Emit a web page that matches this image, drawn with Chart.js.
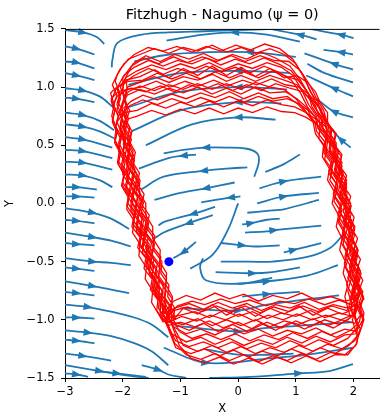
<!DOCTYPE html>
<html lang="en">
<head>
  <meta charset="UTF-8" />
  <title>Fitzhugh - Nagumo</title>
  <script src="https://cdn.jsdelivr.net/npm/chart.js"></script>
  <style>
    html, body { margin: 0; padding: 0; background: #fff; }
    #wrap { width: 384px; height: 415px; }
  </style>
</head>
<body>
  <div id="wrap"><canvas id="fnChart"></canvas></div>

  <script>
    const xTicks = [-3, -2, -1, 0, 1, 2];
    const yTicks = [-1.5, -1.0, -0.5, 0.0, 0.5, 1.0, 1.5];
    const startPoint = [-1.2, -0.5];

    // streamlines, points in flow order, a = point carrying the arrow head (-1 = none)
    const streamLeft = [
      {a: 1, p: [[-3, 1.49], [-2.69, 1.47], [-2.45, 1.43], [-2.32, 1.37]]},
      {a: 1, p: [[-3, 1.35], [-2.8, 1.33], [-2.49, 1.28]]},
      {a: 1, p: [[-3, 1.22], [-2.8, 1.21], [-2.49, 1.16]]},
      {a: 1, p: [[-3, 1.12], [-2.8, 1.1], [-2.49, 1.06]]},
      {a: 1, p: [[-3, 0.99], [-2.69, 0.97], [-2.4, 0.92], [-2.15, 0.82]]},
      {a: 1, p: [[-3, 0.91], [-2.8, 0.9], [-2.49, 0.87]]},
      {a: 1, p: [[-3, 0.78], [-2.69, 0.76], [-2.4, 0.71], [-2.15, 0.63]]},
      {a: 1, p: [[-3, 0.68], [-2.69, 0.66], [-2.4, 0.62], [-2.15, 0.56]]},
      {a: 1, p: [[-3, 0.57], [-2.69, 0.55], [-2.18, 0.48]]},
      {a: 1, p: [[-3, 0.46], [-2.69, 0.45], [-2.18, 0.39]]},
      {a: 1, p: [[-3, 0.36], [-2.69, 0.35], [-2.18, 0.29]]},
      {a: 1, p: [[-3, 0.25], [-2.69, 0.24], [-2.4, 0.2], [-2.18, 0.14]]},
      {a: 1, p: [[-3, 0.14], [-2.8, 0.14], [-2.45, 0.12]]},
      {a: 1, p: [[-3, 0.06], [-2.8, 0.06], [-2.49, 0.05]]},
      {a: 1, p: [[-3, -0.04], [-2.52, -0.08], [-2.2, -0.13], [-1.89, -0.22]]},
      {a: 1, p: [[-3, -0.14], [-2.8, -0.15], [-2.49, -0.17]]},
      {a: 1, p: [[-3, -0.25], [-2.52, -0.29], [-2.2, -0.32], [-1.86, -0.37]]},
      {a: 1, p: [[-3, -0.34], [-2.8, -0.35], [-2.49, -0.36]]},
      {a: 1, p: [[-3, -0.47], [-2.52, -0.5], [-2.2, -0.51], [-1.86, -0.53]]},
      {a: 1, p: [[-3, -0.55], [-2.8, -0.56], [-2.49, -0.58]]},
      {a: 1, p: [[-3, -0.67], [-2.52, -0.71], [-2.2, -0.74], [-1.89, -0.77]]},
      {a: 1, p: [[-3, -0.76], [-2.8, -0.77], [-2.49, -0.79]]},
      {a: 1, p: [[-3, -0.87], [-2.6, -0.89], [-2.2, -0.93], [-1.8, -0.98], [-1.5, -1.04], [-1.21, -1.15]]},
      {a: 1, p: [[-3, -0.98], [-2.8, -0.98], [-2.49, -0.99]]},
      {a: 1, p: [[-3, -1.09], [-2.6, -1.11], [-2.2, -1.14], [-1.8, -1.2], [-1.5, -1.27], [-1.21, -1.39]]},
      {a: 1, p: [[-3, -1.17], [-2.8, -1.18], [-2.49, -1.2]]},
      {a: 1, p: [[-3, -1.29], [-2.69, -1.31], [-2.2, -1.35]]},
      {a: 1, p: [[-3, -1.39], [-2.4, -1.44], [-1.9, -1.48], [-1.55, -1.5]]},
      {a: 1, p: [[-3, -1.46], [-2.8, -1.47], [-2.6, -1.49]]}
    ];

    const streamMiddle = [
      {a: 5, p: [[0.28, 0.23], [0.36, 0.36], [0.33, 0.43], [0.15, 0.47], [-0.2, 0.48], [-0.56, 0.48], [-0.95, 0.46], [-1.29, 0.43]]},
      {a: 1, p: [[-0.73, 0.42], [-0.95, 0.41], [-1.21, 0.39], [-1.72, 0.3]]},
      {a: 2, p: [[0.16, 0.31], [-0.2, 0.3], [-0.6, 0.28], [-1.29, 0.23], [-1.68, 0.12]]},
      {a: 1, p: [[-0.06, 0.18], [-0.56, 0.13], [-1.0, 0.09], [-1.45, 0.03]]},
      {a: 1, p: [[0.04, 0.06], [-0.13, 0.05], [-0.64, 0.01]]},
      {a: 1, p: [[-0.4, -0.03], [-0.78, -0.09], [-1.29, -0.16], [-1.38, -0.19]]},
      {a: 1, p: [[-0.44, -0.1], [-0.86, -0.17], [-1.29, -0.25], [-1.45, -0.3]]},
      {a: 1, p: [[-0.73, -0.33], [-0.95, -0.42], [-1.12, -0.47]]},
      {a: -1, p: [[0.0, 0.0], [-0.18, -0.23], [-0.44, -0.44], [-0.83, -0.56]]},
      {a: 1, p: [[-0.3, -0.34], [0.07, -0.36], [0.3, -0.37], [0.72, -0.36]]},
      {a: -1, p: [[-0.3, -0.5], [0.2, -0.5], [0.59, -0.5], [1.2, -0.46], [1.6, -0.38], [1.82, -0.27]]},
      {a: 1, p: [[0.79, -0.42], [0.96, -0.4], [1.44, -0.34]]},
      {a: 1, p: [[0.07, -0.18], [0.22, -0.17], [0.5, -0.14], [0.72, -0.13]]},
      {a: 2, p: [[0.12, -0.25], [0.5, -0.24], [0.62, -0.23], [1.44, -0.19]]},
      {a: -1, p: [[0.16, -0.08], [0.59, -0.06], [0.79, -0.05], [1.4, 0.03]]},
      {a: 1, p: [[0.33, 0.0], [0.79, 0.06], [1.4, 0.09]]},
      {a: 1, p: [[0.37, 0.13], [0.79, 0.19], [1.44, 0.23]]},
      {a: -1, p: [[0.47, 0.27], [0.8, 0.34], [1.07, 0.42]]},
      {a: -1, p: [[-0.61, -0.47], [-0.66, -0.55], [-0.56, -0.66], [0.0, -0.69], [0.59, -0.64]]},
      {a: 1, p: [[-0.39, -0.59], [0.25, -0.6], [0.59, -0.59], [1.07, -0.55]]}
    ];

    const streamTop = [
      {a: -1, p: [[0.62, 1.5], [0.0, 1.49], [-0.6, 1.48], [-1.21, 1.47], [-1.67, 1.45], [-2.09, 1.38], [-2.18, 1.23], [-2.19, 1.17]]},
      {a: 2, p: [[1.07, 1.39], [0.5, 1.45], [-0.06, 1.47], [-0.6, 1.45], [-1.24, 1.4]]},
      {a: 1, p: [[1.36, 1.41], [1.07, 1.45], [0.55, 1.5]]},
      {a: 1, p: [[2.0, 1.42], [1.78, 1.45], [1.24, 1.5]]},
      {a: 1, p: [[1.99, 1.28], [1.78, 1.3], [1.48, 1.32]]},
      {a: 1, p: [[1.99, 1.15], [1.66, 1.2], [1.15, 1.29]]},
      {a: -1, p: [[1.99, 1.04], [1.5, 1.12], [1.2, 1.2]]},
      {a: 1, p: [[1.99, 0.92], [1.66, 0.99], [1.18, 1.1]]},
      {a: 1, p: [[1.99, 0.74], [1.66, 0.79], [1.36, 0.9]]},
      {a: 1, p: [[1.95, 0.48], [1.78, 0.55], [1.58, 0.66]]},
      {a: 1, p: [[1.0, 1.26], [0.2, 1.3], [-0.5, 1.3], [-1.2, 1.28], [-1.8, 1.22]]},
      {a: 1, p: [[0.9, 1.12], [0.0, 1.14], [-1.0, 1.12], [-1.9, 1.02]]},
      {a: 1, p: [[0.85, 0.98], [0.0, 1.0], [-1.0, 0.96], [-1.95, 0.82]]},
      {a: 1, p: [[0.75, 0.86], [0.0, 0.87], [-1.0, 0.8], [-1.85, 0.62]]},
      {a: 1, p: [[0.65, 0.72], [0.0, 0.74], [-0.8, 0.68], [-1.6, 0.5]]}
    ];

    const streamBottom = [
      {a: 1, p: [[0.0, -0.69], [0.5, -0.67], [1.2, -0.62], [1.73, -0.53]]},
      {a: 1, p: [[0.07, -0.8], [0.5, -0.78], [1.07, -0.76]]},
      {a: 1, p: [[-1.0, -0.9], [0.0, -0.92], [0.5, -0.87], [1.75, -0.79]]},
      {a: 1, p: [[-1.1, -1.05], [0.0, -1.1], [0.5, -1.07], [1.99, -1.02]]},
      {a: -1, p: [[-0.6, -1.25], [0.0, -1.3], [0.5, -1.3], [0.96, -1.29]]},
      {a: 1, p: [[-1.29, -1.24], [-0.56, -1.37], [0.59, -1.33], [1.2, -1.3], [1.99, -1.24]]},
      {a: 2, p: [[-0.5, -1.5], [0.21, -1.49], [1.05, -1.46], [1.58, -1.44], [1.99, -1.38]]},
      {a: 1, p: [[-1.67, -1.39], [-1.38, -1.43], [-1.21, -1.47], [-0.9, -1.5]]},
      {a: 1, p: [[-2.45, -1.44], [-2.1, -1.46], [-1.6, -1.49]]}
    ];

    // noisy trajectory, one lap per array (bottom -> right branch -> top -> left branch)
    const lapA = [[-1.3,-0.95],[-1.12,-0.84],[-0.9,-0.79],[-0.65,-0.83],[-0.4,-0.77],[-0.15,-0.82],[0.1,-0.78],[0.35,-0.84],[0.6,-0.79],[0.85,-0.82],[1.1,-0.77],[1.35,-0.83],[1.6,-0.8],[1.85,-0.84],[2.02,-0.82],
      [2.12,-0.72],[2.03,-0.64],[2.1,-0.56],[2.0,-0.47],[2.06,-0.38],[1.96,-0.3],[2.02,-0.2],[1.9,-0.11],[1.96,-0.02],[1.84,0.08],[1.88,0.17],[1.76,0.26],[1.8,0.35],[1.68,0.44],[1.7,0.52],[1.58,0.6],[1.56,0.69],[1.44,0.78],[1.38,0.87],[1.25,0.96],[1.15,1.08],[1.0,1.2],
      [0.8,1.28],[0.55,1.33],[0.3,1.29],[0.05,1.34],[-0.2,1.3],[-0.45,1.36],[-0.7,1.31],[-0.95,1.34],[-1.2,1.29],[-1.45,1.33],[-1.7,1.28],[-1.9,1.24],[-2.05,1.15],
      [-2.18,1.02],[-2.1,0.93],[-2.16,0.84],[-2.07,0.75],[-2.12,0.66],[-2.02,0.57],[-2.08,0.48],[-1.97,0.39],[-2.02,0.3],[-1.9,0.21],[-1.95,0.12],[-1.82,0.03],[-1.86,-0.06],[-1.73,-0.15],[-1.76,-0.24],[-1.63,-0.33],[-1.66,-0.42],[-1.52,-0.51],[-1.54,-0.6],[-1.42,-0.69],[-1.44,-0.78],[-1.32,-0.87],[-1.3,-0.95]];
    const lapB = [[-1.3,-0.95],[-1.1,-0.9],[-0.85,-0.86],[-0.6,-0.91],[-0.35,-0.85],[-0.1,-0.9],[0.15,-0.86],[0.4,-0.92],[0.65,-0.87],[0.9,-0.9],[1.15,-0.85],[1.4,-0.91],[1.65,-0.87],[1.9,-0.9],[2.06,-0.86],
      [2.0,-0.78],[2.07,-0.7],[1.97,-0.61],[2.03,-0.52],[1.93,-0.43],[1.98,-0.34],[1.87,-0.25],[1.93,-0.16],[1.82,-0.07],[1.86,0.02],[1.74,0.11],[1.79,0.2],[1.67,0.29],[1.71,0.38],[1.58,0.47],[1.6,0.56],[1.47,0.65],[1.45,0.74],[1.32,0.83],[1.24,0.93],[1.08,1.04],[0.92,1.14],
      [0.7,1.2],[0.45,1.25],[0.2,1.2],[-0.05,1.24],[-0.3,1.19],[-0.55,1.25],[-0.8,1.2],[-1.05,1.23],[-1.3,1.18],[-1.55,1.23],[-1.8,1.17],[-1.98,1.1],
      [-2.1,0.99],[-2.04,0.9],[-2.1,0.81],[-2.0,0.72],[-2.05,0.63],[-1.95,0.54],[-2.0,0.45],[-1.9,0.36],[-1.95,0.27],[-1.83,0.18],[-1.87,0.09],[-1.75,0.0],[-1.8,-0.09],[-1.67,-0.18],[-1.71,-0.27],[-1.57,-0.36],[-1.6,-0.45],[-1.46,-0.54],[-1.5,-0.63],[-1.36,-0.72],[-1.38,-0.81],[-1.26,-0.9],[-1.22,-0.98]];
    const lapC = [[-1.22,-0.98],[-1.0,-0.96],[-0.75,-0.93],[-0.5,-0.98],[-0.25,-0.92],[0.0,-0.97],[0.25,-0.93],[0.5,-0.99],[0.75,-0.94],[1.0,-0.97],[1.25,-0.92],[1.5,-0.98],[1.75,-0.94],[1.98,-0.97],
      [2.04,-0.88],[1.96,-0.79],[2.02,-0.7],[1.92,-0.61],[1.97,-0.52],[1.87,-0.43],[1.92,-0.34],[1.81,-0.25],[1.86,-0.16],[1.75,-0.07],[1.79,0.02],[1.68,0.11],[1.71,0.2],[1.6,0.29],[1.63,0.38],[1.5,0.47],[1.52,0.56],[1.38,0.65],[1.34,0.74],[1.2,0.83],[1.08,0.95],[0.92,1.06],
      [0.7,1.13],[0.45,1.18],[0.2,1.12],[-0.05,1.17],[-0.3,1.13],[-0.55,1.18],[-0.8,1.12],[-1.05,1.16],[-1.3,1.11],[-1.55,1.16],[-1.8,1.1],[-1.97,1.04],
      [-2.02,0.96],[-2.08,0.87],[-1.99,0.78],[-2.04,0.69],[-1.94,0.6],[-1.99,0.51],[-1.88,0.42],[-1.93,0.33],[-1.82,0.24],[-1.86,0.15],[-1.74,0.06],[-1.78,-0.03],[-1.66,-0.12],[-1.7,-0.21],[-1.56,-0.3],[-1.6,-0.39],[-1.46,-0.48],[-1.5,-0.57],[-1.36,-0.66],[-1.39,-0.75],[-1.25,-0.84],[-1.27,-0.93],[-1.18,-1.02]];
    const lapD = [[-1.18,-1.02],[-0.95,-1.04],[-0.7,-0.99],[-0.45,-1.05],[-0.2,-1.0],[0.05,-1.05],[0.3,-1.0],[0.55,-1.06],[0.8,-1.01],[1.05,-1.04],[1.3,-0.99],[1.55,-1.05],[1.8,-1.0],[2.02,-1.03],[2.12,-0.96],
      [2.04,-0.87],[2.11,-0.78],[2.01,-0.69],[2.07,-0.6],[1.96,-0.51],[2.02,-0.42],[1.91,-0.33],[1.97,-0.24],[1.85,-0.15],[1.91,-0.06],[1.79,0.03],[1.84,0.12],[1.72,0.21],[1.76,0.3],[1.63,0.39],[1.67,0.48],[1.53,0.57],[1.54,0.66],[1.4,0.75],[1.34,0.84],[1.18,0.93],[1.02,1.02],
      [0.8,1.06],[0.55,1.1],[0.3,1.05],[0.05,1.1],[-0.2,1.05],[-0.45,1.11],[-0.7,1.06],[-0.95,1.09],[-1.2,1.04],[-1.45,1.09],[-1.7,1.04],[-1.92,1.0],
      [-1.97,0.92],[-2.03,0.83],[-1.94,0.74],[-1.99,0.65],[-1.89,0.56],[-1.94,0.47],[-1.83,0.38],[-1.87,0.29],[-1.76,0.2],[-1.8,0.11],[-1.68,0.02],[-1.72,-0.07],[-1.6,-0.16],[-1.63,-0.25],[-1.5,-0.34],[-1.54,-0.43],[-1.4,-0.52],[-1.43,-0.61],[-1.29,-0.7],[-1.32,-0.79],[-1.19,-0.88],[-1.22,-0.97],[-1.12,-1.06]];
    const lapE = [[-1.12,-1.06],[-0.9,-1.12],[-0.65,-1.08],[-0.4,-1.13],[-0.15,-1.07],[0.1,-1.12],[0.35,-1.08],[0.6,-1.14],[0.85,-1.09],[1.1,-1.12],[1.35,-1.07],[1.6,-1.13],[1.85,-1.08],[2.05,-1.1],[2.16,-1.0],
      [2.1,-0.9],[2.16,-0.81],[2.06,-0.72],[2.12,-0.63],[2.02,-0.54],[2.07,-0.45],[1.96,-0.36],[2.02,-0.27],[1.9,-0.18],[1.96,-0.09],[1.84,0.0],[1.89,0.09],[1.77,0.18],[1.82,0.27],[1.69,0.36],[1.74,0.45],[1.6,0.54],[1.62,0.63],[1.48,0.72],[1.44,0.81],[1.3,0.88],[1.12,0.96],
      [0.9,0.99],[0.65,1.03],[0.4,0.97],[0.15,1.02],[-0.1,0.97],[-0.35,1.03],[-0.6,0.98],[-0.85,1.02],[-1.1,0.96],[-1.35,1.01],[-1.6,0.96],[-1.85,0.99],[-2.08,0.96],
      [-2.2,0.9],[-2.13,0.81],[-2.18,0.72],[-2.09,0.63],[-2.13,0.54],[-2.03,0.45],[-2.07,0.36],[-1.96,0.27],[-2.0,0.18],[-1.88,0.09],[-1.91,0.0],[-1.78,-0.09],[-1.82,-0.18],[-1.68,-0.27],[-1.71,-0.36],[-1.57,-0.45],[-1.6,-0.54],[-1.46,-0.63],[-1.49,-0.72],[-1.36,-0.81],[-1.38,-0.9],[-1.28,-0.98]];
    const lapF = [[-1.28,-0.98],[-1.15,-1.12],[-0.9,-1.19],[-0.65,-1.15],[-0.4,-1.21],[-0.15,-1.16],[0.1,-1.22],[0.35,-1.17],[0.6,-1.21],[0.85,-1.15],[1.1,-1.2],[1.35,-1.14],[1.6,-1.19],[1.85,-1.13],[2.05,-1.12],
      [1.98,-1.0],[2.04,-0.91],[1.94,-0.82],[2.0,-0.73],[1.9,-0.64],[1.96,-0.55],[1.85,-0.46],[1.9,-0.37],[1.8,-0.28],[1.84,-0.19],[1.73,-0.1],[1.78,-0.01],[1.65,0.08],[1.7,0.17],[1.57,0.26],[1.61,0.35],[1.48,0.44],[1.5,0.53],[1.36,0.62],[1.33,0.7],[1.18,0.78],[1.02,0.86],[0.85,0.92],
      [0.6,0.9],[0.35,0.95],[0.1,0.9],[-0.15,0.96],[-0.4,0.91],[-0.65,0.95],[-0.9,0.9],[-1.15,0.94],[-1.4,0.89],[-1.65,0.93],[-1.85,0.88],
      [-1.98,0.82],[-1.9,0.73],[-1.95,0.64],[-1.85,0.55],[-1.9,0.46],[-1.8,0.37],[-1.84,0.28],[-1.72,0.19],[-1.77,0.1],[-1.64,0.01],[-1.68,-0.08],[-1.55,-0.17],[-1.59,-0.26],[-1.45,-0.35],[-1.49,-0.44],[-1.35,-0.53],[-1.38,-0.62],[-1.25,-0.71],[-1.28,-0.8],[-1.16,-0.89],[-1.2,-0.98],[-1.1,-1.08]];
    const lapG = [[-1.1,-1.08],[-0.95,-1.22],[-0.7,-1.27],[-0.45,-1.22],[-0.2,-1.28],[0.05,-1.23],[0.3,-1.29],[0.55,-1.24],[0.8,-1.28],[1.05,-1.22],[1.3,-1.27],[1.55,-1.21],[1.8,-1.25],[2.02,-1.18],[2.14,-1.06],
      [2.18,-0.94],[2.1,-0.85],[2.16,-0.76],[2.06,-0.67],[2.12,-0.58],[2.01,-0.49],[2.07,-0.4],[1.96,-0.31],[2.02,-0.22],[1.9,-0.13],[1.95,-0.04],[1.83,0.05],[1.88,0.14],[1.75,0.23],[1.8,0.32],[1.66,0.41],[1.7,0.5],[1.55,0.59],[1.52,0.66],[1.36,0.72],[1.18,0.78],[0.98,0.83],
      [0.75,0.85],[0.5,0.89],[0.25,0.84],[0.0,0.88],[-0.25,0.83],[-0.5,0.88],[-0.75,0.83],[-1.0,0.87],[-1.25,0.82],[-1.5,0.86],[-1.75,0.8],[-1.98,0.78],
      [-2.1,0.7],[-2.02,0.61],[-2.07,0.52],[-1.97,0.43],[-2.02,0.34],[-1.9,0.25],[-1.95,0.16],[-1.83,0.07],[-1.86,-0.02],[-1.73,-0.11],[-1.77,-0.2],[-1.63,-0.29],[-1.67,-0.38],[-1.53,-0.47],[-1.56,-0.56],[-1.43,-0.65],[-1.46,-0.74],[-1.32,-0.83],[-1.35,-0.92],[-1.24,-1.0]];
    const lapH = [[-1.24,-1.0],[-1.1,-1.2],[-0.9,-1.3],[-0.65,-1.34],[-0.4,-1.29],[-0.15,-1.35],[0.1,-1.3],[0.35,-1.36],[0.6,-1.31],[0.85,-1.35],[1.1,-1.29],[1.35,-1.34],[1.6,-1.28],[1.85,-1.3],[2.04,-1.22],[2.12,-1.08],
      [2.02,-0.97],[2.08,-0.88],[1.98,-0.79],[2.04,-0.7],[1.94,-0.61],[1.99,-0.52],[1.88,-0.43],[1.94,-0.34],[1.83,-0.25],[1.88,-0.16],[1.76,-0.07],[1.82,0.02],[1.7,0.11],[1.74,0.2],[1.62,0.29],[1.66,0.38],[1.53,0.47],[1.56,0.56],[1.42,0.65],[1.4,0.74],[1.28,0.83],[1.22,0.94],[1.08,1.06],[0.9,1.18],
      [0.65,1.25],[0.4,1.3],[0.15,1.24],[-0.1,1.28],[-0.35,1.23],[-0.6,1.29],[-0.85,1.24],[-1.1,1.28],[-1.35,1.22],[-1.6,1.27],[-1.82,1.2],[-1.95,1.08],
      [-1.92,0.98],[-1.98,0.89],[-1.88,0.8],[-1.94,0.71],[-1.84,0.62],[-1.88,0.53],[-1.78,0.44],[-1.82,0.35],[-1.71,0.26],[-1.75,0.17],[-1.63,0.08],[-1.67,-0.01],[-1.54,-0.1],[-1.58,-0.19],[-1.44,-0.28],[-1.48,-0.37],[-1.34,-0.46],[-1.37,-0.55],[-1.24,-0.64],[-1.27,-0.73],[-1.14,-0.82],[-1.18,-0.91],[-1.12,-1.0]];
    const lapI = [[-1.12,-1.0],[-0.95,-0.9],[-0.7,-0.95],[-0.45,-0.87],[-0.2,-0.96],[0.05,-0.89],[0.3,-0.97],[0.55,-0.9],[0.8,-0.95],[1.05,-0.88],[1.3,-0.96],[1.55,-0.9],[1.8,-0.95],[2.05,-0.9],[2.18,-0.82],
      [2.1,-0.74],[2.16,-0.66],[2.06,-0.57],[2.12,-0.48],[2.01,-0.39],[2.07,-0.3],[1.96,-0.21],[2.01,-0.12],[1.9,-0.03],[1.95,0.06],[1.83,0.15],[1.88,0.24],[1.75,0.33],[1.8,0.42],[1.66,0.51],[1.7,0.6],[1.55,0.69],[1.55,0.78],[1.42,0.87],[1.34,0.96],[1.2,1.04],[1.02,1.1],
      [0.8,1.08],[0.55,1.16],[0.3,1.09],[0.05,1.17],[-0.2,1.1],[-0.45,1.18],[-0.7,1.1],[-0.95,1.16],[-1.2,1.08],[-1.45,1.15],[-1.7,1.09],[-1.95,1.06],[-2.12,0.98],
      [-2.2,0.88],[-2.14,0.79],[-2.18,0.7],[-2.1,0.61],[-2.14,0.52],[-2.04,0.43],[-2.08,0.34],[-1.97,0.25],[-2.01,0.16],[-1.9,0.07],[-1.93,-0.02],[-1.81,-0.11],[-1.84,-0.2],[-1.7,-0.29],[-1.74,-0.38],[-1.6,-0.47],[-1.63,-0.56],[-1.49,-0.65],[-1.52,-0.74],[-1.39,-0.83],[-1.41,-0.92],[-1.3,-1.0]];
    const lapJ = [[-1.3,-1.0],[-1.1,-1.04],[-0.85,-1.09],[-0.6,-1.03],[-0.35,-1.1],[-0.1,-1.04],[0.15,-1.1],[0.4,-1.03],[0.65,-1.09],[0.9,-1.02],[1.15,-1.08],[1.4,-1.02],[1.65,-1.07],[1.9,-1.0],[2.0,-0.96],
      [1.92,-0.88],[1.98,-0.79],[1.88,-0.7],[1.94,-0.61],[1.84,-0.52],[1.89,-0.43],[1.79,-0.34],[1.84,-0.25],[1.73,-0.16],[1.78,-0.07],[1.66,0.02],[1.71,0.11],[1.59,0.2],[1.63,0.29],[1.5,0.38],[1.54,0.47],[1.4,0.56],[1.42,0.65],[1.26,0.74],[1.2,0.82],[1.02,0.9],[0.82,0.96],
      [0.55,0.95],[0.3,1.0],[0.05,0.94],[-0.2,0.99],[-0.45,0.94],[-0.7,1.0],[-0.95,0.95],[-1.2,0.99],[-1.45,0.94],[-1.7,0.98],[-1.92,0.93],
      [-2.0,0.86],[-2.06,0.77],[-1.96,0.68],[-2.02,0.59],[-1.92,0.5],[-1.96,0.41],[-1.85,0.32],[-1.9,0.23],[-1.78,0.14],[-1.82,0.05],[-1.7,-0.04],[-1.74,-0.13],[-1.6,-0.22],[-1.64,-0.31],[-1.5,-0.4],[-1.54,-0.49],[-1.4,-0.58],[-1.43,-0.67],[-1.3,-0.76],[-1.33,-0.85],[-1.21,-0.94],[-1.25,-1.0]];
    const lapK = [[-1.25,-0.98],[-1.05,-0.88],[-0.8,-0.84],[-0.58,-0.87],[-0.3,-0.82],[-0.05,-0.86],[0.2,-0.83],[0.48,-0.88],[0.72,-0.84],[0.98,-0.86],[1.22,-0.82],[1.5,-0.87],[1.75,-0.83],[1.96,-0.87],[2.08,-0.8],
      [2.02,-0.75],[2.09,-0.65],[1.99,-0.55],[2.04,-0.45],[1.93,-0.35],[1.99,-0.25],[1.87,-0.15],[1.91,-0.05],[1.8,0.05],[1.85,0.15],[1.72,0.25],[1.76,0.35],[1.64,0.45],[1.66,0.55],[1.52,0.65],[1.5,0.75],[1.36,0.85],[1.26,0.96],[1.12,1.1],[0.95,1.24],
      [0.72,1.33],[0.46,1.37],[0.22,1.32],[-0.04,1.36],[-0.3,1.31],[-0.55,1.35],[-0.8,1.3],[-1.06,1.35],[-1.3,1.31],[-1.56,1.34],[-1.8,1.28],[-1.98,1.2],[-2.1,1.1],
      [-2.13,1.05],[-2.05,0.95],[-2.1,0.85],[-2.01,0.75],[-2.05,0.65],[-1.95,0.55],[-1.99,0.45],[-1.88,0.35],[-1.92,0.25],[-1.8,0.15],[-1.83,0.05],[-1.71,-0.05],[-1.74,-0.15],[-1.6,-0.25],[-1.63,-0.35],[-1.49,-0.45],[-1.52,-0.55],[-1.38,-0.65],[-1.41,-0.75],[-1.28,-0.85],[-1.3,-0.95],[-1.2,-1.02]];
    const lapL = [[-1.2,-1.02],[-0.98,-0.97],[-0.72,-1.01],[-0.48,-0.96],[-0.22,-1.0],[0.02,-0.95],[0.28,-1.01],[0.52,-0.96],[0.78,-1.0],[1.02,-0.95],[1.28,-1.0],[1.52,-0.96],[1.78,-1.0],[1.98,-0.96],
      [1.96,-0.85],[1.9,-0.75],[1.96,-0.65],[1.86,-0.55],[1.92,-0.45],[1.82,-0.35],[1.86,-0.25],[1.75,-0.15],[1.8,-0.05],[1.68,0.05],[1.73,0.15],[1.6,0.25],[1.64,0.35],[1.5,0.45],[1.53,0.55],[1.38,0.65],[1.36,0.75],[1.22,0.85],[1.1,0.98],[0.95,1.1],
      [0.75,1.17],[0.5,1.21],[0.25,1.16],[0.0,1.2],[-0.25,1.15],[-0.5,1.21],[-0.75,1.16],[-1.0,1.2],[-1.25,1.15],[-1.5,1.19],[-1.75,1.14],[-1.95,1.08],
      [-2.04,1.0],[-1.97,0.9],[-2.02,0.8],[-1.93,0.7],[-1.97,0.6],[-1.87,0.5],[-1.9,0.4],[-1.79,0.3],[-1.82,0.2],[-1.7,0.1],[-1.72,0.0],[-1.59,-0.1],[-1.6,-0.2],[-1.46,-0.3],[-1.47,-0.4],[-1.32,-0.5],[-1.34,-0.6],[-1.2,-0.7],[-1.22,-0.8],[-1.1,-0.9],[-1.12,-1.0],[-1.02,-1.1]];
    const lapM = [[-1.02,-1.1],[-0.8,-1.16],[-0.55,-1.12],[-0.3,-1.17],[-0.05,-1.12],[0.2,-1.18],[0.45,-1.13],[0.7,-1.17],[0.95,-1.11],[1.2,-1.16],[1.45,-1.1],[1.7,-1.15],[1.95,-1.09],[2.1,-1.02],
      [2.13,-0.95],[2.06,-0.85],[2.12,-0.75],[2.03,-0.65],[2.08,-0.55],[1.98,-0.45],[2.03,-0.35],[1.92,-0.25],[1.97,-0.15],[1.85,-0.05],[1.9,0.05],[1.78,0.15],[1.82,0.25],[1.7,0.35],[1.74,0.45],[1.6,0.55],[1.6,0.65],[1.46,0.75],[1.38,0.85],[1.22,0.94],[1.05,1.0],
      [0.82,1.02],[0.58,1.07],[0.32,1.02],[0.08,1.06],[-0.18,1.01],[-0.42,1.06],[-0.68,1.01],[-0.92,1.05],[-1.18,1.0],[-1.42,1.05],[-1.68,1.0],[-1.92,0.98],[-2.1,0.92],
      [-2.16,0.85],[-2.08,0.75],[-2.13,0.65],[-2.03,0.55],[-2.07,0.45],[-1.96,0.35],[-2.0,0.25],[-1.87,0.15],[-1.9,0.05],[-1.78,-0.05],[-1.81,-0.15],[-1.67,-0.25],[-1.7,-0.35],[-1.56,-0.45],[-1.58,-0.55],[-1.45,-0.65],[-1.47,-0.75],[-1.34,-0.85],[-1.35,-0.95],[-1.26,-1.02]];
    const lapN = [[-1.26,-1.02],[-1.08,-1.18],[-0.85,-1.23],[-0.6,-1.19],[-0.35,-1.24],[-0.1,-1.19],[0.15,-1.25],[0.4,-1.2],[0.65,-1.24],[0.9,-1.18],[1.15,-1.23],[1.4,-1.17],[1.65,-1.22],[1.9,-1.16],[2.08,-1.06],
      [2.02,-0.95],[2.08,-0.85],[2.0,-0.75],[2.05,-0.65],[1.96,-0.55],[2.01,-0.45],[1.9,-0.35],[1.95,-0.25],[1.84,-0.15],[1.89,-0.05],[1.77,0.05],[1.82,0.15],[1.69,0.25],[1.73,0.35],[1.6,0.45],[1.62,0.55],[1.48,0.63],[1.38,0.72],[1.22,0.8],[1.04,0.86],[0.85,0.9],
      [0.6,0.88],[0.35,0.92],[0.1,0.87],[-0.15,0.92],[-0.4,0.87],[-0.65,0.91],[-0.9,0.86],[-1.15,0.9],[-1.4,0.85],[-1.65,0.89],[-1.88,0.84],
      [-2.04,0.76],[-1.96,0.65],[-2.0,0.55],[-1.9,0.45],[-1.94,0.35],[-1.83,0.25],[-1.86,0.15],[-1.74,0.05],[-1.78,-0.05],[-1.64,-0.15],[-1.68,-0.25],[-1.54,-0.35],[-1.57,-0.45],[-1.42,-0.55],[-1.45,-0.65],[-1.32,-0.75],[-1.34,-0.85],[-1.22,-0.95],[-1.24,-1.04]];
    const lapO = [[-1.24,-1.04],[-1.08,-1.24],[-0.82,-1.29],[-0.58,-1.25],[-0.32,-1.31],[-0.08,-1.26],[0.18,-1.32],[0.42,-1.27],[0.68,-1.31],[0.92,-1.25],[1.18,-1.3],[1.42,-1.24],[1.68,-1.29],[1.92,-1.22],[2.1,-1.12],
      [2.18,-1.0],[2.12,-0.9],[2.17,-0.8],[2.08,-0.7],[2.13,-0.6],[2.03,-0.5],[2.08,-0.4],[1.97,-0.3],[2.02,-0.2],[1.91,-0.1],[1.95,0.0],[1.83,0.1],[1.88,0.2],[1.75,0.3],[1.79,0.4],[1.66,0.5],[1.68,0.6],[1.54,0.7],[1.48,0.8],[1.36,0.9],[1.24,1.02],[1.08,1.14],[0.88,1.22],
      [0.62,1.23],[0.38,1.27],[0.12,1.22],[-0.12,1.27],[-0.38,1.22],[-0.62,1.26],[-0.88,1.21],[-1.12,1.26],[-1.38,1.2],[-1.62,1.25],[-1.85,1.18],[-2.0,1.08],
      [-1.99,0.95],[-1.93,0.85],[-1.97,0.75],[-1.88,0.65],[-1.92,0.55],[-1.82,0.45],[-1.86,0.35],[-1.75,0.25],[-1.78,0.15],[-1.66,0.05],[-1.7,-0.05],[-1.57,-0.15],[-1.6,-0.25],[-1.46,-0.35],[-1.5,-0.45],[-1.36,-0.55],[-1.38,-0.65],[-1.25,-0.75],[-1.28,-0.85],[-1.16,-0.95],[-1.15,-1.04]];
    const lapP = [[-1.15,-1.04],[-1.02,-1.22],[-0.82,-1.33],[-0.58,-1.37],[-0.32,-1.32],[-0.08,-1.38],[0.18,-1.33],[0.42,-1.38],[0.68,-1.32],[0.92,-1.37],[1.18,-1.31],[1.42,-1.36],[1.68,-1.3],[1.9,-1.3],[2.06,-1.2],
      [2.06,-1.05],[2.0,-0.95],[2.06,-0.85],[1.97,-0.75],[2.03,-0.65],[1.93,-0.55],[1.98,-0.45],[1.88,-0.35],[1.93,-0.25],[1.82,-0.15],[1.87,-0.05],[1.75,0.05],[1.8,0.15],[1.67,0.25],[1.71,0.35],[1.58,0.45],[1.6,0.55],[1.46,0.65],[1.43,0.75],[1.3,0.85],[1.2,0.96],[1.04,1.06],
      [0.85,1.09],[0.6,1.14],[0.35,1.08],[0.1,1.13],[-0.15,1.08],[-0.4,1.13],[-0.65,1.07],[-0.9,1.12],[-1.15,1.07],[-1.4,1.12],[-1.65,1.06],[-1.9,1.05],[-2.1,1.0],
      [-2.21,0.95],[-2.15,0.85],[-2.19,0.75],[-2.11,0.65],[-2.14,0.55],[-2.06,0.45],[-2.09,0.35],[-1.98,0.25],[-2.02,0.15],[-1.9,0.05],[-1.93,-0.05],[-1.8,-0.15],[-1.83,-0.25],[-1.7,-0.35],[-1.72,-0.45],[-1.59,-0.55],[-1.61,-0.65],[-1.48,-0.75],[-1.5,-0.85],[-1.38,-0.95],[-1.3,-1.02]];
    const lapQ = [[-1.3,-1.02],[-1.12,-0.92],[-0.88,-0.89],[-0.62,-0.93],[-0.38,-0.88],[-0.12,-0.93],[0.12,-0.88],[0.38,-0.94],[0.62,-0.89],[0.88,-0.93],[1.12,-0.88],[1.38,-0.93],[1.62,-0.88],[1.88,-0.92],[2.06,-0.86],
      [2.1,-0.75],[2.03,-0.65],[2.08,-0.55],[1.98,-0.45],[2.03,-0.35],[1.92,-0.25],[1.96,-0.15],[1.85,-0.05],[1.89,0.05],[1.76,0.15],[1.8,0.25],[1.68,0.35],[1.7,0.45],[1.56,0.53],[1.5,0.6],[1.36,0.68],[1.18,0.74],[0.98,0.78],
      [0.75,0.79],[0.5,0.83],[0.25,0.78],[0.0,0.82],[-0.25,0.77],[-0.5,0.82],[-0.75,0.77],[-1.0,0.81],[-1.25,0.76],[-1.5,0.8],[-1.75,0.75],[-1.95,0.72],
      [-2.04,0.62],[-1.96,0.52],[-2.0,0.42],[-1.9,0.32],[-1.93,0.22],[-1.82,0.12],[-1.85,0.02],[-1.72,-0.08],[-1.76,-0.18],[-1.62,-0.28],[-1.66,-0.38],[-1.51,-0.48],[-1.54,-0.58],[-1.4,-0.68],[-1.43,-0.78],[-1.3,-0.88],[-1.32,-0.98],[-1.22,-1.05]];
    const lapR = [[-1.22,-1.05],[-1.0,-1.02],[-0.75,-1.06],[-0.5,-1.01],[-0.25,-1.07],[0.0,-1.02],[0.25,-1.08],[0.5,-1.02],[0.75,-1.07],[1.0,-1.01],[1.25,-1.06],[1.5,-1.0],[1.75,-1.04],[1.95,-0.98],
      [1.9,-0.9],[1.85,-0.8],[1.9,-0.7],[1.82,-0.6],[1.86,-0.5],[1.76,-0.4],[1.8,-0.3],[1.7,-0.2],[1.74,-0.1],[1.63,0.0],[1.67,0.1],[1.55,0.2],[1.58,0.3],[1.46,0.4],[1.48,0.5],[1.34,0.6],[1.3,0.7],[1.16,0.8],[1.0,0.9],[0.8,0.98],
      [0.55,1.0],[0.3,1.04],[0.05,0.98],[-0.2,1.03],[-0.45,0.98],[-0.7,1.03],[-0.95,0.98],[-1.2,1.02],[-1.45,0.97],[-1.7,1.01],[-1.9,0.96],
      [-1.98,0.9],[-1.92,0.8],[-1.96,0.7],[-1.86,0.6],[-1.9,0.5],[-1.8,0.4],[-1.82,0.3],[-1.7,0.2],[-1.72,0.1],[-1.6,0.0],[-1.6,-0.1],[-1.48,-0.2],[-1.48,-0.3],[-1.35,-0.4],[-1.36,-0.5],[-1.24,-0.6],[-1.25,-0.7],[-1.14,-0.8],[-1.16,-0.9],[-1.08,-1.0]];

    const laps = [lapA, lapB, lapC, lapD, lapE, lapF, lapG, lapH, lapI, lapJ, lapK, lapL, lapM, lapN, lapO, lapP, lapQ, lapR];
    const streams = [...streamLeft, ...streamMiddle, ...streamTop, ...streamBottom];

    const BLUE = '#1f77b4';
    const fmt = v => (v < 0 ? '\u2212' : '') + Math.abs(v);

    const datasets = [];
    datasets.push({
      data: [{x: startPoint[0], y: startPoint[1]}],
      pointRadius: 4.5, pointBackgroundColor: '#0000ff', pointBorderWidth: 0,
      showLine: false, order: 0
    });
    laps.forEach(lap => {
      datasets.push({
        data: lap.map(p => ({x: p[0], y: p[1]})),
        showLine: true, borderColor: '#ff0000', borderWidth: 1.3,
        pointRadius: 0, tension: 0, order: 1, clip: 0
      });
    });
    streams.forEach(s => {
      datasets.push({
        data: s.p.map(p => ({x: p[0], y: p[1]})),
        showLine: true, borderColor: BLUE, borderWidth: 1.8,
        pointRadius: 0, tension: 0.35, order: 2, clip: 0,
        arrowAt: s.a
      });
    });

    // arrow heads on the streamlines
    const arrowHeads = {
      id: 'arrowHeads',
      afterDatasetDraw(chart, args) {
        const ds = chart.data.datasets[args.index];
        if (ds.arrowAt == null || ds.arrowAt < 0) return;
        const pts = args.meta.data;
        const i = ds.arrowAt;
        const p = pts[i];
        const q = pts[Math.min(i + 1, pts.length - 1)];
        const r = pts[Math.max(i - 1, 0)];
        const ang = Math.atan2(q.y - r.y, q.x - r.x);
        const ctx = chart.ctx;
        ctx.save();
        ctx.translate(p.x, p.y);
        ctx.rotate(ang);
        ctx.beginPath();
        ctx.moveTo(5, 0);
        ctx.lineTo(-4.5, -3.6);
        ctx.lineTo(-4.5, 3.6);
        ctx.closePath();
        ctx.fillStyle = ds.borderColor;
        ctx.fill();
        ctx.restore();
      }
    };

    // top spine
    const topSpine = {
      id: 'topSpine',
      afterDraw(chart) {
        const {ctx, chartArea} = chart;
        ctx.save();
        ctx.strokeStyle = '#000';
        ctx.lineWidth = 1;
        ctx.beginPath();
        ctx.moveTo(chartArea.left, chartArea.top + 0.5);
        ctx.lineTo(chartArea.right, chartArea.top + 0.5);
        ctx.stroke();
        ctx.restore();
      }
    };

    Chart.defaults.font.family = 'DejaVu Sans';
    Chart.defaults.color = '#000';

    new Chart(document.getElementById('fnChart'), {
      type: 'scatter',
      data: {datasets},
      options: {
        responsive: true,
        maintainAspectRatio: false,
        animation: false,
        devicePixelRatio: 1,
        layout: {padding: {top: 3, left: 0, right: 0, bottom: 0}},
        plugins: {
          legend: {display: false},
          tooltip: {enabled: false},
          title: {
            display: true,
            text: 'Fitzhugh - Nagumo (\u03c8 = 0)',
            fullSize: false,
            font: {size: 14.5, weight: 'normal'},
            color: '#000',
            padding: {top: 4, bottom: 4.5}
          }
        },
        scales: {
          x: {
            type: 'linear', min: -3, max: 2.45,
            afterBuildTicks: axis => { axis.ticks = xTicks.map(v => ({value: v})); },
            afterFit: scale => { scale.height = 37; },
            ticks: {callback: v => fmt(v), font: {size: 11.5}, padding: 3, maxRotation: 0},
            grid: {drawOnChartArea: false, drawTicks: true, tickLength: 4, tickColor: '#000'},
            border: {display: true, color: '#000', width: 1},
            title: {display: true, text: 'X', font: {size: 11.5, lineHeight: 1}, padding: {top: 0, bottom: 0}}
          },
          y: {
            type: 'linear', min: -1.5, max: 1.5,
            afterBuildTicks: axis => { axis.ticks = yTicks.map(v => ({value: v})); },
            afterFit: scale => { scale.width = 65; },
            ticks: {callback: v => (v < 0 ? '\u2212' : '') + Math.abs(v).toFixed(1), font: {size: 11.5}, padding: 6.5},
            grid: {drawOnChartArea: false, drawTicks: true, tickLength: 4, tickColor: '#000'},
            border: {display: true, color: '#000', width: 1},
            title: {display: true, text: 'Y', font: {size: 11.5, lineHeight: 1}, padding: {top: 4, bottom: 0}}
          }
        }
      },
      plugins: [arrowHeads, topSpine]
    });
  </script>
</body>
</html>
